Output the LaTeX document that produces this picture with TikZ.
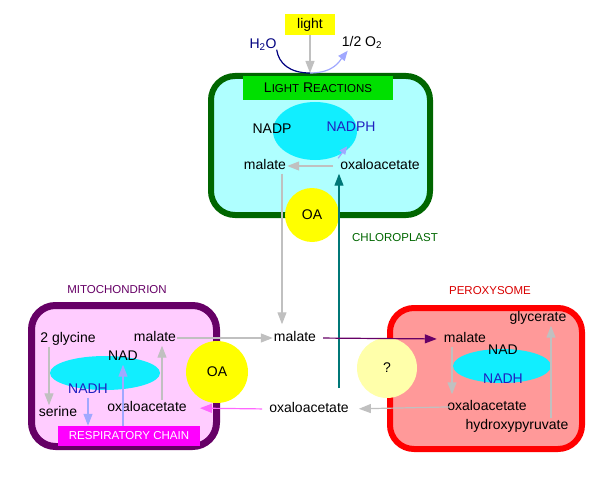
\documentclass[tikz,border=0pt]{standalone}
\usepackage{fontspec}
\setmainfont{Liberation Sans}
\usepackage{tikz}
\usetikzlibrary{arrows.meta,positioning,calc,shapes.geometric}
\definecolor{ChlGreen}{HTML}{006600}
\definecolor{ChlFill}{HTML}{AFFFFF}
\definecolor{ReacGreen}{HTML}{00E000}
\definecolor{PoolCyan}{HTML}{11EEFF}
\definecolor{SunYellow}{HTML}{FFFF00}
\definecolor{MitoPurple}{HTML}{660066}
\definecolor{MitoFill}{HTML}{FFCCFF}
\definecolor{ChainMagenta}{HTML}{FF00FF}
\definecolor{PeroxRed}{HTML}{FF0000}
\definecolor{PeroxFill}{HTML}{FF9999}
\definecolor{QueryYellow}{HTML}{FFFFAA}
\definecolor{ArrowGray}{HTML}{C0C0C0}
\definecolor{Lavender}{HTML}{A0A8FF}
\definecolor{PinkArrow}{HTML}{FF66FF}
\definecolor{TealLine}{HTML}{007777}
\definecolor{TextBlue}{HTML}{2020C0}
\definecolor{Navy}{HTML}{000080}
\newcommand{\bigsmall}[2]{{\fontsize{14}{16}\selectfont #1}{\fontsize{11.5}{13}\selectfont #2}}

\begin{document}
\begin{tikzpicture}[x=1pt,y=-1pt,>=Latex,font=\fontsize{14}{16}\selectfont,
  txt/.style={inner sep=1pt,text height=10pt,text depth=3pt},
  tag/.style={inner sep=1pt,font=\fontsize{11.5}{13}\selectfont},
  conn/.style={line width=1.2pt,-{Triangle[length=12pt,width=9pt]}},
  organelle/.style={line width=6pt,rounded corners=24pt},
  pool/.style={ellipse,fill=PoolCyan,inner sep=0pt},
  acid/.style={circle,inner sep=0pt}]
  \useasboundingbox (0,0) rectangle (599,484);
  % compartments
  \node[organelle,draw=ChlGreen,fill=ChlFill,minimum width=219pt,minimum height=139pt] (chl) at (320.5,145.5) {};
  \node[organelle,line width=7pt,draw=MitoPurple,fill=MitoFill,minimum width=185pt,minimum height=141pt] (mito) at (124,376) {};
  \node[organelle,draw=PeroxRed,fill=PeroxFill,minimum width=192pt,minimum height=141pt] (perox) at (486,378.5) {};
  \node[pool,minimum width=84pt,minimum height=58pt] (poolC) at (315,131) {};
  \node[pool,minimum width=110pt,minimum height=34pt] (poolM) at (105,373) {};
  \node[pool,minimum width=98pt,minimum height=34pt] (poolP) at (502,366) {};
  \node[acid,fill=SunYellow,minimum size=54pt] (oaC) at (312,215) {OA};
  \node[acid,fill=SunYellow,minimum size=62pt] (oaM) at (217,372) {OA};
  \node[acid,fill=QueryYellow,minimum size=60pt] (query) at (387,368) {?};
  \node[fill=SunYellow,minimum width=50pt,minimum height=21pt,inner sep=0pt] (light) at (310,24.5) {light};
  \node[fill=ReacGreen,minimum width=150pt,minimum height=24pt,inner sep=0pt] (reac) at (318,88)
    {\bigsmall{L}{IGHT} \bigsmall{R}{EACTIONS}};
  \node[fill=ChainMagenta,text=white,font=\fontsize{11.5}{13}\selectfont,minimum width=142pt,minimum height=20pt,inner sep=0pt]
    (resp) at (129,436) {RESPIRATORY CHAIN};
  % labels
  \node[tag,text=ChlGreen] (chlname) at (395,238) {CHLOROPLAST};
  \node[tag,text=MitoPurple] (mitoname) at (117,290) {MITOCHONDRION};
  \node[tag,text=PeroxRed!85!black] (peroxname) at (490,291) {PEROXYSOME};
  % metabolites
  \node[txt,text=Navy] (h2o) at (263,45) {H\textsubscript{2}O};
  \node[txt] (half) at (362,43) {1/2 O\textsubscript{2}};
  \node[txt] (nadp) at (272,130) {NADP};
  \node[txt,text=TextBlue] (nadph) at (351,128) {NADPH};
  \node[txt] (malC) at (265,166) {malate};
  \node[txt] (oxaC) at (380,166) {oxaloacetate};
  \node[txt] (gly) at (68,339) {2 glycine};
  \node[txt] (malM) at (155,338) {malate};
  \node[txt] (nadM) at (123,357) {NAD};
  \node[txt,text=TextBlue] (nadhM) at (88,390) {NADH};
  \node[txt] (ser) at (58,413) {serine};
  \node[txt] (oxaM) at (147,408) {oxaloacetate};
  \node[txt] (malCen) at (295,338) {malate};
  \node[txt] (oxaCen) at (309,409) {oxaloacetate};
  \node[txt] (glyc) at (538,318) {glycerate};
  \node[txt] (malP) at (465,339) {malate};
  \node[txt] (nadP) at (503,351) {NAD};
  \node[txt,text=TextBlue] (nadhP) at (503,380) {NADH};
  \node[txt] (oxaP) at (487,407) {oxaloacetate};
  \node[txt] (hyd) at (517,426) {hydroxypyruvate};
  \coordinate (lighthit) at (310,73);
  \coordinate (tealfoot) at (339,388);
  % connectors
  \draw[conn,ArrowGray] (light.south) -- (light.south |- chl.north);
  \draw[line width=1.2pt,Navy] ([shift={(-1pt,3pt)}]h2o.south east) .. controls +(2,14) and +(-20,0) .. (lighthit);
  \draw[line width=1.2pt,Lavender,-{Triangle[length=10pt,width=8pt]}] (lighthit) .. controls +(24,0) and +(-8,10) .. ([xshift=7pt]half.south west);
  \draw[conn,ArrowGray,shorten <=6pt] (oxaC.west) -- (malC.east);
  \draw[line width=1.2pt,Lavender,-{Triangle[length=8pt,width=7pt]}] ([xshift=-1pt]oxaC.north west) -- ++(9,-12);
  \draw[conn,ArrowGray,shorten >=6pt] ([xshift=17pt]malC.south) -- ([xshift=17pt]malC.south |- malCen.north);
  \draw[conn,TealLine] (tealfoot) -- (tealfoot |- oxaC.south);
  \draw[conn,ArrowGray] ([xshift=-19pt]gly.south) -- ([xshift=-19pt]gly.south |- ser.north);
  \draw[conn,Lavender] (nadhM.south) -- (nadhM.south |- resp.north);
  \draw[conn,Lavender] (resp.north -| nadM) -- (nadM.south);
  \draw[conn,ArrowGray] ([xshift=15pt]oxaM.north) -- ([xshift=15pt]oxaM.north |- malM.south);
  \draw[conn,ArrowGray] (malM.east) -- (malCen.west);
  \draw[conn,MitoPurple,shorten <=6pt,shorten >=6pt] (malCen.east) -- (malP.west);
  \draw[conn,ArrowGray,shorten <=-4pt,shorten >=9pt] (oxaP.west) -- (oxaCen.east);
  \draw[conn,PinkArrow,shorten <=6pt,shorten >=12pt] (oxaCen.west) -- (oxaM.east);
  \draw[conn,ArrowGray,shorten >=5pt] ([xshift=-13pt]malP.south) -- ([xshift=-13pt]malP.south |- oxaP.north);
  \draw[conn,ArrowGray] ([xshift=34pt]hyd.north) -- ([xshift=34pt]hyd.north |- glyc.south);
\end{tikzpicture}
\end{document}
